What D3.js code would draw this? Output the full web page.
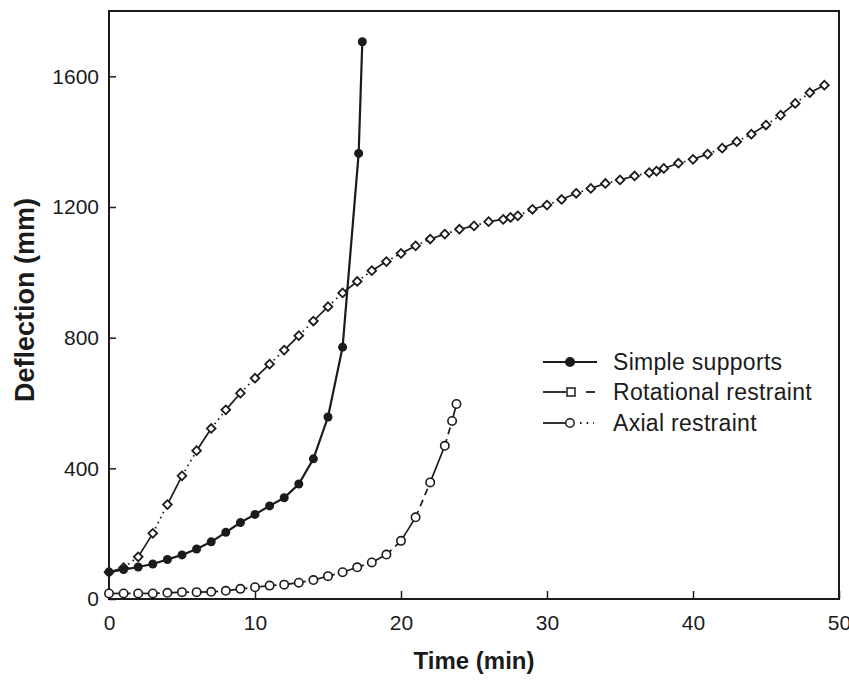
<!DOCTYPE html>
<html>
<head>
<meta charset="utf-8">
<script src="https://cdn.jsdelivr.net/npm/d3@7"></script>
<style>
    body { margin: 0; background: #fff; }
    svg { display: block; font-family: "Liberation Sans", Arial, sans-serif; }
</style>
</head>
<body>
<div id="plot"></div>
<script>
// Simple supports (filled circles, solid line)
var timeSimple = [0, 1, 2, 3, 4, 5, 6, 7, 8, 9, 10, 11, 12, 13, 14, 15, 16, 17.1, 17.35];
var deflSimple = [83, 90, 98, 107, 121, 135, 153, 175, 204, 234, 259, 285, 310, 352, 429, 557, 771, 1364, 1706];

// Rotational restraint (open diamonds, dash-dot)
var timeRot = [0, 1, 2, 3, 4, 5, 6, 7, 8, 9, 10, 11, 12, 13, 14, 15, 16, 17, 18, 19, 20,
    21, 22, 23, 24, 25, 26, 27, 27.5, 28, 29, 30, 31, 32, 33, 34, 35, 36, 37, 37.5,
    38, 39, 40, 41, 42, 43, 44, 45, 46, 47, 48, 49];
var deflRot = [82, 96, 129, 201, 289, 377, 454, 522, 579, 630, 676, 719, 762, 806, 851, 895, 937, 972, 1005, 1033, 1058,
    1081, 1102, 1117, 1132, 1142, 1155, 1162, 1168, 1173, 1193, 1206, 1223, 1242, 1257, 1272, 1283, 1295, 1305, 1310,
    1318, 1334, 1346, 1362, 1380, 1400, 1423, 1451, 1481, 1517, 1550, 1573];

// Axial restraint (open circles, dashed)
var timeAx = [0, 1, 2, 3, 4, 5, 6, 7, 8, 9, 10, 11, 12, 13, 14, 15, 16, 17, 18, 19, 20, 21, 22, 23, 23.5, 23.8];
var deflAx = [17, 17, 17, 17, 19, 21, 21, 22, 25, 31, 36, 41, 44, 50, 58, 70, 82, 97, 112, 136, 178, 250, 357, 469, 545, 597];

var xTicks = [0, 10, 20, 30, 40, 50];
var yTicks = [0, 400, 800, 1200, 1600];

var legendLabels = ["Simple supports", "Rotational restraint", "Axial restraint"];

var W = 849, H = 681;
// plot box edges (note: "top" is reserved on window, so use m* names)
var mLeft = 109, mRight = 839, mTop = 11, mBottom = 599;
var ink = "#1b1b1b";

var svg = d3.select("div#plot").append("svg")
    .attr("width", W)
    .attr("height", H)
    .attr("viewBox", "0 0 " + W + " " + H);

var x = d3.scaleLinear().domain([0, 50]).range([mLeft, mRight]);
var y = d3.scaleLinear().domain([0, 1800]).range([mBottom, mTop]);

function zip(ts, vs) {
    return ts.map(function(t, i) { return {t: t, v: vs[i]}; });
}
var simple = zip(timeSimple, deflSimple);
var rot = zip(timeRot, deflRot);
var ax = zip(timeAx, deflAx);

// Axes: ticks pointing inwards, labels outside.
var gx = svg.append("g")
    .attr("transform", "translate(0," + mBottom + ")")
    .call(d3.axisBottom(x).tickValues(xTicks).tickSize(-8).tickPadding(16).tickFormat(d3.format("d")));
var gy = svg.append("g")
    .attr("transform", "translate(" + mLeft + ",0)")
    .call(d3.axisLeft(y).tickValues(yTicks).tickSize(-7).tickPadding(10).tickFormat(d3.format("d")));
[gx, gy].forEach(function(g) {
    g.select(".domain").remove();
    g.selectAll(".tick line").attr("stroke", ink).attr("stroke-width", 1.5);
    g.selectAll(".tick text")
        .attr("fill", ink)
        .attr("font-size", 21)
        .attr("font-family", "Liberation Sans, Arial, sans-serif");
});

// Frame
svg.append("rect")
    .attr("x", mLeft).attr("y", mTop)
    .attr("width", mRight - mLeft).attr("height", mBottom - mTop)
    .attr("fill", "none")
    .attr("stroke", ink)
    .attr("stroke-width", 2);

// Axis titles
svg.append("text")
    .attr("x", (mLeft + mRight) / 2)
    .attr("y", 669)
    .attr("text-anchor", "middle")
    .attr("font-size", 24)
    .attr("font-weight", "bold")
    .attr("fill", ink)
    .text("Time (min)");
svg.append("text")
    .attr("transform", "translate(34,300) rotate(-90)")
    .attr("text-anchor", "middle")
    .attr("font-size", 27)
    .attr("font-weight", "bold")
    .attr("fill", ink)
    .text("Deflection (mm)");

// Lines drawn segment by segment: every other segment solid, the rest patterned.
function segments(data, cls, dash) {
    svg.append("g").attr("class", cls)
        .selectAll("line")
        .data(d3.pairs(data))
        .join("line")
            .attr("x1", function(d) { return x(d[0].t); })
            .attr("y1", function(d) { return y(d[0].v); })
            .attr("x2", function(d) { return x(d[1].t); })
            .attr("y2", function(d) { return y(d[1].v); })
            .attr("stroke", ink)
            .attr("stroke-width", 1.7)
            .attr("stroke-dasharray", function(d, i) { return i % 2 === 0 ? null : dash; });
}
segments(rot, "rot-line", "1.6,4");
segments(ax, "ax-line", "7,5");

svg.append("path")
    .datum(simple)
    .attr("fill", "none")
    .attr("stroke", ink)
    .attr("stroke-width", 2.2)
    .attr("d", d3.line().x(function(d) { return x(d.t); }).y(function(d) { return y(d.v); }));

// Markers
var diamond = d3.symbol().type(d3.symbolSquare).size(38);
svg.append("g").selectAll("path")
    .data(rot)
    .join("path")
        .attr("d", diamond)
        .attr("transform", function(d) { return "translate(" + x(d.t) + "," + y(d.v) + ") rotate(45)"; })
        .attr("fill", "#fff")
        .attr("stroke", ink)
        .attr("stroke-width", 1.8);

svg.append("g").selectAll("circle")
    .data(ax)
    .join("circle")
        .attr("cx", function(d) { return x(d.t); })
        .attr("cy", function(d) { return y(d.v); })
        .attr("r", 4.2)
        .attr("fill", "#fff")
        .attr("stroke", ink)
        .attr("stroke-width", 1.6);

svg.append("g").selectAll("circle")
    .data(simple)
    .join("circle")
        .attr("cx", function(d) { return x(d.t); })
        .attr("cy", function(d) { return y(d.v); })
        .attr("r", 4.5)
        .attr("fill", ink);

// Legend
var lg = svg.append("g").attr("class", "legend");
var rowY = [362, 392, 423];

lg.append("line").attr("x1", 543).attr("x2", 597).attr("y1", rowY[0]).attr("y2", rowY[0])
    .attr("stroke", ink).attr("stroke-width", 2.2);
lg.append("circle").attr("cx", 570).attr("cy", rowY[0]).attr("r", 5).attr("fill", ink);

lg.append("line").attr("x1", 543).attr("x2", 566).attr("y1", rowY[1]).attr("y2", rowY[1])
    .attr("stroke", ink).attr("stroke-width", 1.8);
lg.append("rect").attr("x", 567).attr("y", rowY[1] - 4).attr("width", 8).attr("height", 8)
    .attr("fill", "#fff").attr("stroke", ink).attr("stroke-width", 1.5);
lg.append("line").attr("x1", 586).attr("x2", 595).attr("y1", rowY[1]).attr("y2", rowY[1])
    .attr("stroke", ink).attr("stroke-width", 1.8);

lg.append("line").attr("x1", 543).attr("x2", 566).attr("y1", rowY[2]).attr("y2", rowY[2])
    .attr("stroke", ink).attr("stroke-width", 1.8);
lg.append("circle").attr("cx", 570).attr("cy", rowY[2]).attr("r", 4.2)
    .attr("fill", "#fff").attr("stroke", ink).attr("stroke-width", 1.5);
lg.append("line").attr("x1", 580).attr("x2", 594).attr("y1", rowY[2]).attr("y2", rowY[2])
    .attr("stroke", ink).attr("stroke-width", 1.8).attr("stroke-dasharray", "1.6,5");

lg.selectAll("text")
    .data(legendLabels)
    .join("text")
        .attr("x", 613)
        .attr("y", function(d, i) { return rowY[i] + 8; })
        .attr("font-size", 23)
        .attr("letter-spacing", 0.3)
        .attr("fill", ink)
        .text(function(d) { return d; });
</script>
</body>
</html>
